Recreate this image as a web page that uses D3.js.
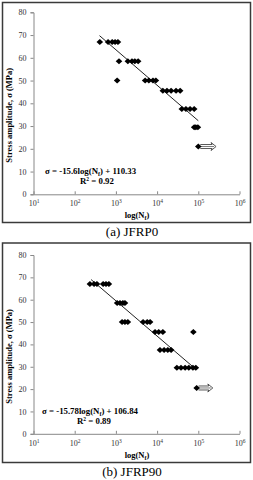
<!DOCTYPE html>
<html>
<head>
<meta charset="utf-8">
<script src="https://cdn.jsdelivr.net/npm/d3@7"></script>
<style>
  body { margin: 0; background: #fff; }
  svg { display: block; }
  text { font-family: "Liberation Serif", "DejaVu Serif", serif; }
</style>
</head>
<body>
<svg id="chart" width="253" height="480"></svg>
<script>
// --- data ---
const xTicks = [10, 100, 1000, 10000, 100000, 1000000];
const yTicks = [0, 10, 20, 30, 40, 50, 60, 70, 80];

// (a) JFRP0
const cyclesA = [407, 646, 813, 955, 1122, 1189, 1072,
  1950, 2455, 2884, 3467,
  5129, 6310, 7943, 9333,
  13800, 17380, 21880, 28840, 36310,
  39810, 50120, 63100, 79430,
  79430, 87100, 97700, 100000];
const stressA = [67, 67, 67, 67, 67, 58.5, 50,
  58.5, 58.5, 58.5, 58.5,
  50, 50, 50, 50,
  45.5, 45.5, 45.5, 45.5, 45.5,
  37.5, 37.5, 37.5, 37.5,
  29.5, 29.5, 29.5, 21];
const fitA = [-15.6, 110.33];        // slope, intercept
const fitRangeA = [400, 100000];
const runoutA = [100000, 21, 270000]; // cycles, stress, arrow end
const eqA = ["σ = -15.6log(N", "f", ") + 110.33"];
const r2A = "0.92";

// (b) JFRP90
const cyclesB = [234, 295, 347, 490, 575, 676,
  1072, 1259, 1479, 1660,
  1413, 1660, 1950, 4571, 5754, 6761,
  8913, 10960, 13800, 75860,
  11750, 14790, 18200, 21880,
  30200, 38020, 47860, 58880, 74130, 87100, 91200];
const stressB = [67, 67, 67, 67, 67, 67,
  58.5, 58.5, 58.5, 58.5,
  50, 50, 50, 50, 50, 50,
  45.5, 45.5, 45.5, 45.5,
  37.5, 37.5, 37.5, 37.5,
  29.5, 29.5, 29.5, 29.5, 29.5, 29.5, 20.5];
const fitB = [-15.78, 106.84];
const fitRangeB = [250, 80000];
const runoutB = [91200, 20.5, 225000];
const eqB = ["σ = -15.78log(N", "f", ") + 106.84"];
const r2B = "0.89";

const svg = d3.select("#chart");
const serif = '"Liberation Serif", "DejaVu Serif", serif';

function drawPanel(o) {
    const g = svg.append("g");

    // frame
    g.append("rect")
        .attr("x", 2.5).attr("y", o.top)
        .attr("width", 248).attr("height", o.h)
        .attr("fill", "none").attr("stroke", "#3a3a3a").attr("stroke-width", 1.5);

    const x = d3.scaleLog().domain([10, 1000000]).range([33.5, 239.5]);
    const y = d3.scaleLinear().domain([0, 80]).range([o.y0, o.y80]);

    // y axis
    const ya = g.append("g").attr("transform", `translate(${x(10)},0)`)
        .call(d3.axisLeft(y).tickValues(yTicks).tickSize(3).tickPadding(4));
    ya.select(".domain").attr("stroke", "#888");
    ya.selectAll(".tick line").attr("stroke", "#888");
    ya.selectAll(".tick text").attr("font-size", 8).attr("fill", "#333")
        .attr("font-family", serif);

    // x axis
    const xa = g.append("g").attr("transform", `translate(0,${y(0)})`)
        .call(d3.axisBottom(x).tickValues(xTicks).tickSizeInner(-3).tickSizeOuter(0).tickFormat(""));
    xa.select(".domain").attr("stroke", "#888");
    xa.selectAll(".tick line").attr("stroke", "#888");
    xa.selectAll(".tick").append("text")
        .attr("y", 12).attr("text-anchor", "middle")
        .attr("font-size", 8).attr("fill", "#333")
        .attr("font-family", serif)
        .each(function (d) {
            const t = d3.select(this);
            t.append("tspan").text("10");
            t.append("tspan").attr("font-size", 5.5).attr("dy", -3)
                .text(Math.round(Math.log10(d)));
        });

    // axis titles
    g.append("text")
        .attr("transform", `translate(12,${(y(0) + y(80)) / 2 + 12}) rotate(-90)`)
        .attr("text-anchor", "middle").attr("font-size", 8.5).attr("font-weight", "bold")
        .text("Stress amplitude, σ (MPa)");

    const xl = g.append("text")
        .attr("x", 137).attr("y", o.top + o.h - 5)
        .attr("text-anchor", "middle").attr("font-size", 8.5).attr("font-weight", "bold");
    xl.append("tspan").text("log(N");
    xl.append("tspan").attr("font-size", 6).attr("dy", 2).text("f");
    xl.append("tspan").attr("dy", -2).text(")");

    // trend line
    const fitLine = d3.line().x(d => x(d)).y(d => y(o.fit[0] * Math.log10(d) + o.fit[1]));
    g.append("path").datum(o.fitRange)
        .attr("d", fitLine).attr("fill", "none")
        .attr("stroke", "#222").attr("stroke-width", 1);

    // run-out arrow (hollow)
    const ax0 = x(o.runout[0]) + 2, ax1 = x(o.runout[2]), ay = y(o.runout[1]);
    const arrow = d3.path();
    arrow.moveTo(ax0, ay - 2);
    arrow.lineTo(ax1 - 4, ay - 2);
    arrow.lineTo(ax1 - 5, ay - 4);
    arrow.lineTo(ax1, ay);
    arrow.lineTo(ax1 - 5, ay + 4);
    arrow.lineTo(ax1 - 4, ay + 2);
    arrow.lineTo(ax0, ay + 2);
    g.append("path").attr("d", arrow.toString())
        .attr("fill", "#fff").attr("stroke", "#444").attr("stroke-width", 0.9);
    g.append("line")
        .attr("x1", ax0).attr("x2", ax1 - 2).attr("y1", ay).attr("y2", ay)
        .attr("stroke", "#444").attr("stroke-width", 0.7);

    // points
    const diamond = "M0,-3L3.3,0L0,3L-3.3,0Z";
    g.selectAll("path.pt").data(o.cycles).enter().append("path")
        .attr("class", "pt")
        .attr("d", diamond)
        .attr("transform", (d, i) => `translate(${x(d)},${y(o.stress[i])})`)
        .attr("fill", "#000");

    // equation
    const eq = g.append("text")
        .attr("x", o.eqX).attr("y", o.eqY)
        .attr("font-size", 8.8).attr("font-weight", "bold");
    eq.append("tspan").text(o.eq[0]);
    eq.append("tspan").attr("font-size", 6).attr("dy", 2).text(o.eq[1]);
    eq.append("tspan").attr("dy", -2).text(o.eq[2]);

    const r2 = g.append("text")
        .attr("x", o.eqX + 35).attr("y", o.eqY + 10)
        .attr("font-size", 8.8).attr("font-weight", "bold");
    r2.append("tspan").text("R");
    r2.append("tspan").attr("font-size", 5.5).attr("dy", -3).text("2");
    r2.append("tspan").attr("dy", 3).text(" = " + o.r2);

    // caption
    svg.append("text")
        .attr("x", 132).attr("y", o.top + o.h + 13.5)
        .attr("text-anchor", "middle").attr("font-size", 13)
        .attr("font-family", serif)
        .text(o.caption);
}

drawPanel({
    top: 2.5, h: 220, y0: 194.3, y80: 12.3,
    cycles: cyclesA, stress: stressA, fit: fitA, fitRange: fitRangeA,
    runout: runoutA, eq: eqA, r2: r2A, eqX: 45, eqY: 174,
    caption: "(a) JFRP0"
});

drawPanel({
    top: 243, h: 219.5, y0: 433.8, y80: 255,
    cycles: cyclesB, stress: stressB, fit: fitB, fitRange: fitRangeB,
    runout: runoutB, eq: eqB, r2: r2B, eqX: 42, eqY: 414,
    caption: "(b) JFRP90"
});
</script>
</body>
</html>
